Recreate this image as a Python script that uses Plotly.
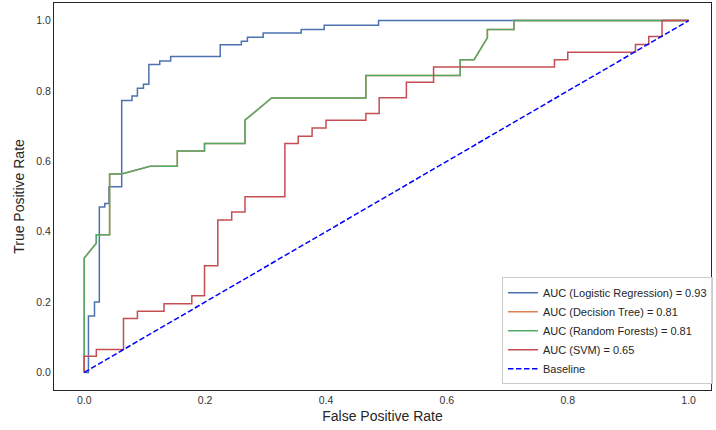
import plotly.graph_objects as go

# ROC curve data
lr_fpr = [0.0, 0.007, 0.007, 0.017, 0.017, 0.025, 0.025, 0.034, 0.034, 0.041, 0.041, 0.062, 0.062,
          0.079, 0.079, 0.088, 0.088, 0.098, 0.098, 0.107, 0.107, 0.125, 0.125, 0.143, 0.143,
          0.225, 0.225, 0.260, 0.260, 0.270, 0.270, 0.296, 0.296, 0.359, 0.359, 0.397, 0.397,
          0.487, 0.487, 1.0]
lr_tpr = [0.0, 0.0, 0.16, 0.16, 0.20, 0.20, 0.47, 0.47, 0.48, 0.48, 0.528, 0.528, 0.773,
          0.773, 0.786, 0.786, 0.808, 0.808, 0.819, 0.819, 0.875, 0.875, 0.885, 0.885, 0.898,
          0.898, 0.931, 0.931, 0.941, 0.941, 0.953, 0.953, 0.965, 0.965, 0.975, 0.975, 0.987,
          0.987, 1.0, 1.0]

rf_fpr = [0.0, 0.0, 0.02, 0.02, 0.042, 0.042, 0.062, 0.109, 0.154, 0.154, 0.199, 0.199, 0.266,
          0.266, 0.310, 0.466, 0.466, 0.622, 0.622, 0.645, 0.667, 0.667, 0.711, 0.711, 1.0]
rf_tpr = [0.0, 0.325, 0.367, 0.391, 0.391, 0.564, 0.564, 0.586, 0.586, 0.629, 0.629, 0.651, 0.651,
          0.717, 0.780, 0.780, 0.844, 0.844, 0.889, 0.889, 0.951, 0.975, 0.975, 1.0, 1.0]

# Decision tree curve coincides with the random forest curve (same AUC, hidden beneath it)
dt_fpr = list(rf_fpr)
dt_tpr = list(rf_tpr)

svm_fpr = [0.0, 0.0, 0.02, 0.02, 0.065, 0.065, 0.088, 0.088, 0.132, 0.132, 0.178, 0.178, 0.199,
           0.199, 0.221, 0.221, 0.244, 0.244, 0.266, 0.266, 0.332, 0.332, 0.354, 0.354, 0.377,
           0.377, 0.400, 0.400, 0.466, 0.466, 0.488, 0.488, 0.533, 0.533, 0.578, 0.578, 0.778,
           0.778, 0.800, 0.800, 0.912, 0.912, 0.934, 0.934, 0.956, 0.956, 1.0]
svm_tpr = [0.0, 0.046, 0.046, 0.065, 0.065, 0.153, 0.153, 0.174, 0.174, 0.195, 0.195, 0.218, 0.218,
           0.303, 0.303, 0.433, 0.433, 0.456, 0.456, 0.499, 0.499, 0.651, 0.651, 0.671, 0.671,
           0.695, 0.695, 0.717, 0.717, 0.736, 0.736, 0.781, 0.781, 0.825, 0.825, 0.868, 0.868,
           0.889, 0.889, 0.910, 0.910, 0.932, 0.932, 0.955, 0.955, 1.0, 1.0]

base_x = [0.0, 1.0]
base_y = [0.0, 1.0]

names = ["AUC (Logistic Regression) = 0.93", "AUC (Decision Tree) = 0.81",
         "AUC (Random Forests) = 0.81", "AUC (SVM) = 0.65", "Baseline"]
tick_vals = [0.0, 0.2, 0.4, 0.6, 0.8, 1.0]
tick_text = ["0.0", "0.2", "0.4", "0.6", "0.8", "1.0"]

fig = go.Figure()
fig.add_trace(go.Scatter(x=lr_fpr, y=lr_tpr, mode="lines", name=names[0],
                         line=dict(color="#4C72B0", width=1.5)))
fig.add_trace(go.Scatter(x=dt_fpr, y=dt_tpr, mode="lines", name=names[1],
                         line=dict(color="#DD8452", width=1.5)))
fig.add_trace(go.Scatter(x=rf_fpr, y=rf_tpr, mode="lines", name=names[2],
                         line=dict(color="#55A868", width=1.5)))
fig.add_trace(go.Scatter(x=svm_fpr, y=svm_tpr, mode="lines", name=names[3],
                         line=dict(color="#C44E52", width=1.5)))
fig.add_trace(go.Scatter(x=base_x, y=base_y, mode="lines", name=names[4],
                         line=dict(color="#0000FF", width=1.5, dash="5.5px,2.5px")))

axis_common = dict(showgrid=False, zeroline=False, showline=True, mirror=True,
                   linecolor="#262626", linewidth=1.25, ticks="",
                   tickfont=dict(family="Liberation Sans, Arial", size=10.5, color="#333333"),
                   tickvals=tick_vals, ticktext=tick_text)

fig.update_layout(
    width=716, height=430,
    margin=dict(l=54, r=3, t=3, b=40),
    paper_bgcolor="white", plot_bgcolor="white",
    font=dict(family="Liberation Sans, Arial", color="#262626"),
    showlegend=True,
    legend=dict(x=1.003, y=0.015, xanchor="right", yanchor="bottom",
                bgcolor="rgba(255,255,255,0.8)", bordercolor="#cccccc", borderwidth=1,
                font=dict(family="Liberation Sans, Arial", size=11, color="#262626"),
                tracegroupgap=0, itemwidth=30),
    xaxis=dict(range=[-0.05, 1.037], title=dict(text="False Positive Rate",
               font=dict(size=14), standoff=6), **axis_common),
    yaxis=dict(range=[-0.05, 1.05], title=dict(text="True Positive Rate",
               font=dict(size=14), standoff=8), **axis_common),
)

fig.write_html("out.html")
